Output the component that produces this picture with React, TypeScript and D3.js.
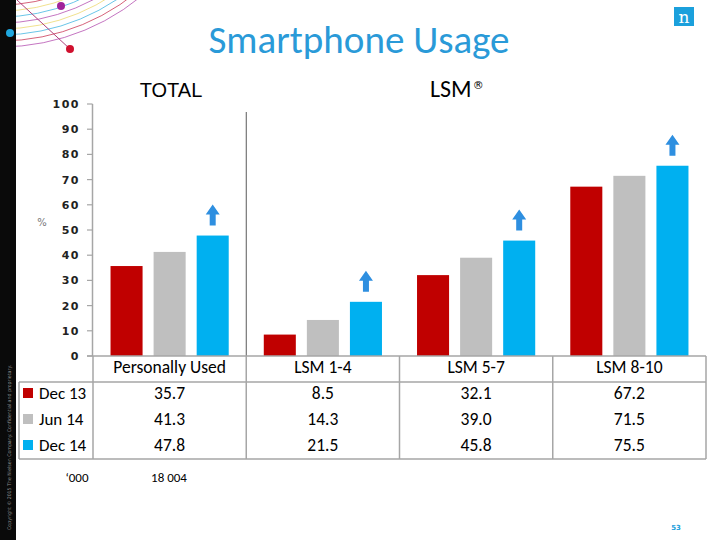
import React from "react";
import * as d3 from "d3";

const categories = ["Personally Used", "LSM 1-4", "LSM 5-7", "LSM 8-10"];
const seriesNames = ["Dec 13", "Jun 14", "Dec 14"];
const dec13 = [35.7, 8.5, 32.1, 67.2];
const jun14 = [41.3, 14.3, 39.0, 71.5];
const dec14 = [47.8, 21.5, 45.8, 75.5];
const yTicks = [0, 10, 20, 30, 40, 50, 60, 70, 80, 90, 100];
const seriesColors = ["#C00000", "#BFBFBF", "#00B0F0"];

const W = 720;
const H = 540;
const CAL = "Carlito, Lato, 'Open Sans', sans-serif";

export default function App() {
  const series = [dec13, jun14, dec14];
  const x0 = d3.scaleBand<string>().domain(categories).range([93, 706]).paddingInner(0).paddingOuter(0);
  const x1 = d3
    .scaleBand<string>()
    .domain(seriesNames)
    .range([0, x0.bandwidth()])
    .paddingInner(0.256)
    .paddingOuter(0.407);
  const y = d3.scaleLinear().domain([0, 100]).range([356, 104]);

  const tableTop = y(0);
  const headerBottom = 382;
  const tableBottom = 459;
  const rowY = [393, 419, 445];

  // decorative arcs
  const arcR = [222, 216, 210, 204, 198, 192, 186, 180];
  const arcColors = ["#B24AAE", "#C8304F", "#3BB3E0", "#EBD86A", "#B24AAE", "#3BB3E0", "#EBD86A", "#C8304F"];

  const arrow = (cx: number, top: number) => {
    const p = d3.path();
    p.moveTo(cx, top);
    p.lineTo(cx + 7, top + 10);
    p.lineTo(cx + 3, top + 10);
    p.lineTo(cx + 3, top + 21);
    p.lineTo(cx - 3, top + 21);
    p.lineTo(cx - 3, top + 10);
    p.lineTo(cx - 7, top + 10);
    p.closePath();
    return p.toString();
  };

  return (
    <svg
      width={W}
      height={H}
      viewBox={`0 0 ${W} ${H}`}
      style={{ position: "absolute", left: 0, top: 0, background: "#fff" }}
    >
      {/* decoration */}
      <g>
        {arcR.map((r, i) => (
          <circle key={i} cx={0} cy={-175} r={r} fill="none" stroke={arcColors[i]} strokeWidth={0.9} opacity={0.85} />
        ))}
        <line x1={17} y1={0} x2={70} y2={49} stroke="#B0407A" strokeWidth={1} />
      </g>
      <rect x={0} y={0} width={16} height={H} fill="#0a0a0a" />
      <circle cx={61} cy={6} r={4} fill="#A0249A" />
      <circle cx={10} cy={33} r={4} fill="#1FA8E0" />
      <circle cx={70} cy={49} r={4} fill="#D0102E" />
      <text
        transform="translate(10.5,530) rotate(-90)"
        fontFamily="'DejaVu Sans', sans-serif"
        fontSize={5}
        fill="#8a8a8a"
        textLength={165}
        lengthAdjust="spacingAndGlyphs"
      >
        Copyright © 2015 The Nielsen Company. Confidential and proprietary.
      </text>

      {/* logo */}
      <rect x={674} y={7} width={20} height={19} fill="#1BA0DC" />
      <text x={684} y={23} textAnchor="middle" fontFamily="'DejaVu Serif', serif" fontSize={17} fill="#fff">
        n
      </text>

      {/* title */}
      <text x={359} y={53} textAnchor="middle" fontFamily={CAL} fontSize={39} fill="#2A9AD8">
        Smartphone Usage
      </text>
      <text x={171} y={97} textAnchor="middle" fontFamily="'Liberation Sans', Arial, sans-serif" fontSize={20} fill="#000">
        TOTAL
      </text>
      <text x={430} y={97} fontFamily={CAL} fontSize={24} fill="#000">
        LSM
        <tspan fontFamily="'DejaVu Sans', sans-serif" fontSize={11} dy={-8} dx={1}>®</tspan>
      </text>

      {/* separator between total and LSM */}
      <line x1={x0("LSM 1-4")!} x2={x0("LSM 1-4")!} y1={112} y2={356} stroke="#595959" strokeWidth={1} />

      {/* y axis */}
      <line x1={92.5} x2={92.5} y1={y(100)} y2={y(0)} stroke="#A6A6A6" strokeWidth={1.5} />
      {yTicks.map((t) => (
        <g key={t}>
          <line x1={87} x2={92.5} y1={y(t)} y2={y(t)} stroke="#A6A6A6" strokeWidth={1.2} />
          <text
            x={80}
            y={y(t) + 4}
            textAnchor="end"
            fontFamily="'DejaVu Sans', sans-serif"
            fontWeight="bold"
            fontSize={11}
            letterSpacing={1.5}
            fill="#222"
          >
            {t}
          </text>
        </g>
      ))}
      <text x={42} y={226} textAnchor="middle" fontFamily="'DejaVu Sans', sans-serif" fontSize={10} fill="#777">
        %
      </text>

      {/* bars */}
      {categories.map((c, ci) => (
        <g key={c} transform={`translate(${x0(c)},0)`}>
          {series.map((s, si) => (
            <rect
              key={si}
              x={x1(seriesNames[si])}
              y={y(s[ci])}
              width={x1.bandwidth()}
              height={y(0) - y(s[ci])}
              fill={seriesColors[si]}
            />
          ))}
          <path
            d={arrow(x1("Dec 14")! + x1.bandwidth() / 2, y(dec14[ci]) - 31)}
            fill="#2E8FE0"
          />
        </g>
      ))}

      {/* data table */}
      <g stroke="#A6A6A6" strokeWidth={1.5} fill="none">
        <line x1={87} x2={706} y1={tableTop} y2={tableTop} />
        <line x1={19} x2={706} y1={headerBottom} y2={headerBottom} />
        <line x1={19} x2={706} y1={tableBottom} y2={tableBottom} />
        <line x1={19} x2={19} y1={headerBottom} y2={tableBottom} />
        {categories.map((c) => (
          <line key={c} x1={x0(c)!} x2={x0(c)!} y1={tableTop} y2={tableBottom} />
        ))}
        <line x1={706} x2={706} y1={tableTop} y2={tableBottom} />
      </g>
      {categories.map((c) => (
        <text
          key={c}
          x={x0(c)! + x0.bandwidth() / 2}
          y={373}
          textAnchor="middle"
          fontFamily={CAL}
          fontSize={17.5}
          fill="#000"
        >
          {c}
        </text>
      ))}
      {series.map((s, si) => (
        <g key={si}>
          <rect x={23} y={rowY[si] - 5} width={10} height={10} fill={seriesColors[si]} />
          <text x={39} y={rowY[si] + 6} fontFamily={CAL} fontSize={17} fill="#000">
            {seriesNames[si]}
          </text>
          {categories.map((c, ci) => (
            <text
              key={c}
              x={x0(c)! + x0.bandwidth() / 2}
              y={rowY[si] + 6}
              textAnchor="middle"
              fontFamily={CAL}
              fontSize={17.5}
              fill="#000"
            >
              {s[ci].toFixed(1)}
            </text>
          ))}
        </g>
      ))}
      <text x={77} y={482} textAnchor="middle" fontFamily={CAL} fontSize={13} fill="#000">
        ‘000
      </text>
      <text x={169} y={482} textAnchor="middle" fontFamily={CAL} fontSize={13} fill="#000">
        18 004
      </text>

      <text x={676} y={530} textAnchor="middle" fontFamily="'DejaVu Sans', sans-serif" fontWeight="bold" fontSize={7} fill="#1BA0DC">
        53
      </text>
    </svg>
  );
}
